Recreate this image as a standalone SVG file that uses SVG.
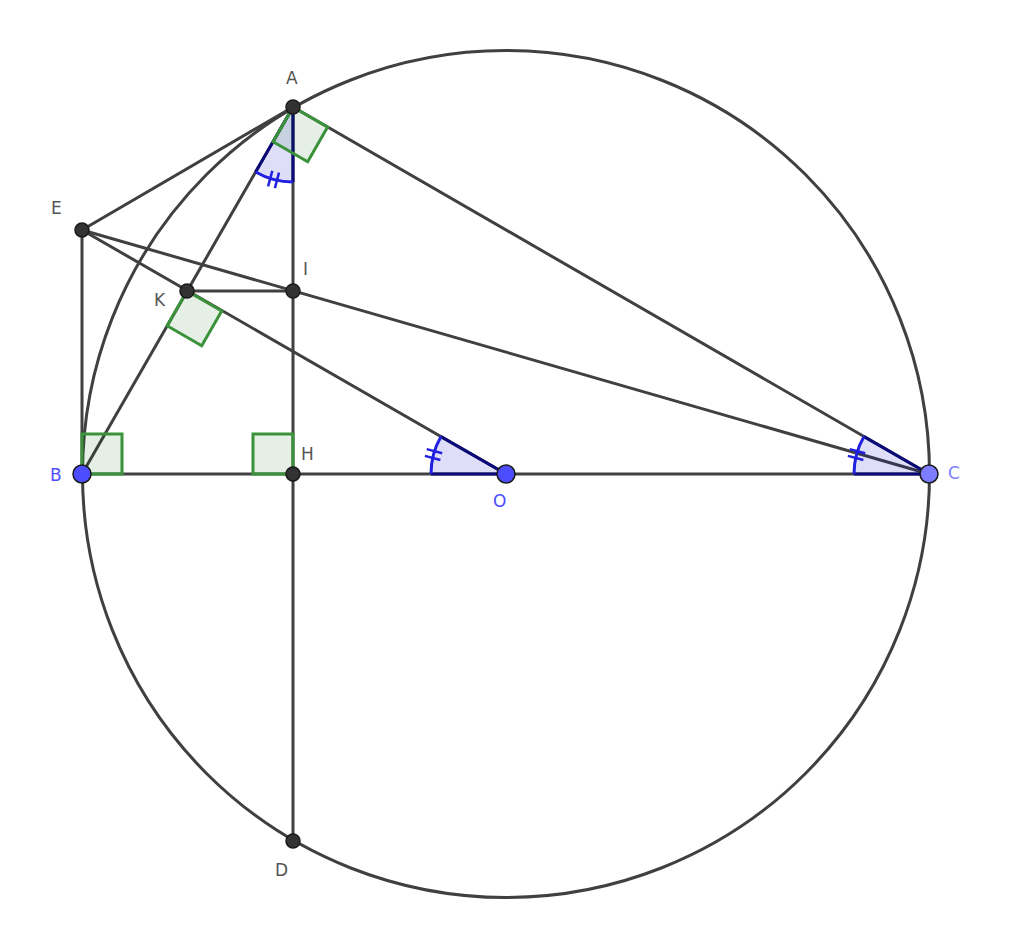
<svg xmlns="http://www.w3.org/2000/svg" width="1024" height="942" viewBox="0 0 1024 942">
<style>
.ln{stroke:#404040;stroke-width:3;fill:none;stroke-linecap:round}
.ra{stroke:#3a933a;stroke-width:3;fill:#006400;fill-opacity:0.1;stroke-linejoin:miter}
.sec{fill:#0000d0;fill-opacity:0.13;stroke:none}
.rad{stroke:#0a0a78;stroke-width:3;fill:none}
.arc{stroke:#2020e0;stroke-width:3;fill:none}
.tick{stroke:#2020e0;stroke-width:2.5}
.pt{fill:#333;stroke:#1a1a1a;stroke-width:1.5}
.ptb{fill:#4d4dff;stroke:#1a1a1a;stroke-width:1.5}
.ptc{fill:#7d7dff;stroke:#1a1a1a;stroke-width:1.5}
.lb{font-family:"DejaVu Sans",sans-serif;font-size:17px;fill:#555}
.lbb{font-family:"DejaVu Sans",sans-serif;font-size:17px;fill:#4d4dff}
.lbc{font-family:"DejaVu Sans",sans-serif;font-size:17px;fill:#7d7dff}
</style>
<g id="connectors">
<circle class="ln" cx="506" cy="474" r="423.5"/>
<line class="ln" x1="293" y1="107" x2="82" y2="474"/>
<line class="ln" x1="293" y1="107" x2="929" y2="474"/>
<line class="ln" x1="293" y1="107" x2="293" y2="841"/>
<line class="ln" x1="82" y1="474" x2="929" y2="474"/>
<line class="ln" x1="82" y1="230" x2="293" y2="107"/>
<line class="ln" x1="82" y1="230" x2="82" y2="474"/>
<line class="ln" x1="82" y1="230" x2="506" y2="474"/>
<line class="ln" x1="82" y1="230" x2="929" y2="474"/>
<line class="ln" x1="187" y1="291" x2="293" y2="291"/>
</g>
<g id="angle-A">
<path class="sec" d="M293,107 L293,182 A75,75 0 0 1 255.6,172 Z"/>
<path class="rad" d="M293,182 L293,107 L255.6,172"/>
<path class="arc" d="M293,182 A75,75 0 0 1 255.6,172"/>
<line class="tick" x1="272.3" y1="170.8" x2="268.1" y2="186.3"/>
<line class="tick" x1="279" y1="172.6" x2="274.9" y2="188.1"/>
</g>
<g id="angle-O">
<path class="sec" d="M506,474 L431,474 A75,75 0 0 1 441,436.6 Z"/>
<path class="rad" d="M431,474 L506,474 L441,436.6"/>
<path class="arc" d="M431,474 A75,75 0 0 1 441,436.6"/>
<line class="tick" x1="442.2" y1="453.3" x2="426.7" y2="449.1"/>
<line class="tick" x1="440.4" y1="460" x2="424.9" y2="455.9"/>
</g>
<g id="angle-C">
<path class="sec" d="M929,474 L854,474 A75,75 0 0 1 864,436.6 Z"/>
<path class="rad" d="M854,474 L929,474 L864,436.6"/>
<path class="arc" d="M854,474 A75,75 0 0 1 864,436.6"/>
<line class="tick" x1="865.2" y1="453.3" x2="849.7" y2="449.1"/>
<line class="tick" x1="863.4" y1="460" x2="847.9" y2="455.9"/>
</g>
<g id="right-A"><polygon class="ra" points="293,107 327.6,127 307.7,161.7 273.1,141.7"/></g>
<g id="right-K"><polygon class="ra" points="187,291 221.7,311 201.7,345.7 167.1,325.7"/></g>
<g id="right-B"><polygon class="ra" points="82,474 122,474 122,434 82,434"/></g>
<g id="right-H"><polygon class="ra" points="293,474 253,474 253,434 293,434"/></g>
<g id="node-A"><circle class="pt" cx="293" cy="107" r="7"/><text class="lb" x="286" y="84">A</text></g>
<g id="node-E"><circle class="pt" cx="82" cy="230" r="7"/><text class="lb" x="51" y="214">E</text></g>
<g id="node-I"><circle class="pt" cx="293" cy="291" r="7"/><text class="lb" x="303" y="275">I</text></g>
<g id="node-K"><circle class="pt" cx="187" cy="291" r="7"/><text class="lb" x="154" y="306">K</text></g>
<g id="node-H"><circle class="pt" cx="293" cy="474" r="7"/><text class="lb" x="301" y="460">H</text></g>
<g id="node-D"><circle class="pt" cx="293" cy="841" r="7"/><text class="lb" x="275" y="876">D</text></g>
<g id="node-B"><circle class="ptb" cx="82" cy="474" r="9"/><text class="lbb" x="50" y="481">B</text></g>
<g id="node-O"><circle class="ptb" cx="506" cy="474" r="9"/><text class="lbb" x="493" y="507">O</text></g>
<g id="node-C"><circle class="ptc" cx="929" cy="474" r="9"/><text class="lbc" x="948" y="479">C</text></g>
</svg>
